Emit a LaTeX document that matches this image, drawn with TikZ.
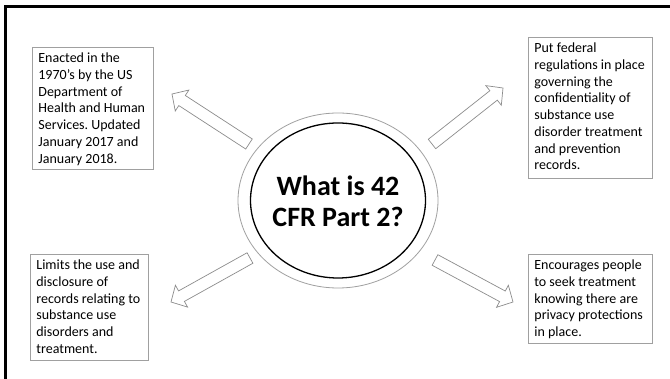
\documentclass[tikz,border=0pt]{standalone}
\usepackage{fontspec}
\setmainfont{Carlito}
\usetikzlibrary{calc,shapes.geometric}
\definecolor{boxgray}{HTML}{A0A0A0}
\definecolor{arrowgray}{HTML}{8C8C8C}
\tikzset{
  infobox/.style={draw=boxgray, line width=0.8pt, inner xsep=6pt, inner ysep=0pt,
    anchor=north west, font=\fontsize{14}{16.7}\selectfont},
  blk/.style={draw=arrowgray, line width=0.7pt, fill=white, line join=miter},
}
\frenchspacing
\newcommand\boxtext[3]{\parbox[c][#1][t]{#2}{\rule{0pt}{15.5pt}#3}}
\newcommand\blkarrow[2]{%
  \coordinate (hb) at ($(#2)!12pt!(#1)$);
  \draw[blk] ($(#1)!6pt!90:(#2)$) -- ($(hb)!6pt!90:(#2)$) -- ($(hb)!12.5pt!90:(#2)$)
    -- (#2) -- ($(hb)!12.5pt!-90:(#2)$) -- ($(hb)!6pt!-90:(#2)$)
    -- ($(#1)!6pt!-90:(#2)$) -- cycle;
}
\begin{document}
\begin{tikzpicture}[x=1pt,y=-1pt]
\useasboundingbox (0,0) rectangle (670,379);
\fill[white] (0,0) rectangle (670,379);
% frame
\draw[line width=2.6pt, line join=miter] (5.3,400) -- (5.3,6.5) -- (700,6.5);

% text boxes
\node[infobox] (tl) at (32,47) {\boxtext{122pt}{109pt}{Enacted in the\\1970’s by the US\\Department of\\Health and Human\\Services. Updated\\January 2017 and\\January 2018.}};
\node[infobox] (tr) at (528,37) {\boxtext{141pt}{112pt}{Put federal\\regulations in place\\governing the\\confidentiality of\\substance use\\disorder treatment\\and prevention\\records.}};
\node[infobox] (bl) at (30,254) {\boxtext{106pt}{106pt}{Limits the use and\\disclosure of\\records relating to\\substance use\\disorders and\\treatment.}};
\node[infobox] (br) at (528,254) {\boxtext{89pt}{112pt}{Encourages people\\to seek treatment\\knowing there are\\privacy protections\\in place.}};

% center
\node[ellipse, draw=boxgray, line width=0.8pt, minimum width=200pt, minimum height=175pt] (outer) at (338,200.5) {};
\node[ellipse, draw=black, line width=1.3pt, minimum width=175pt, minimum height=155pt] (inner) at (338,200.5) {};
\node[font=\bfseries\fontsize{28}{31}\selectfont, align=center, inner sep=0pt] (q) at (338,201) {What is 42\\CFR Part 2?};

% arrows
\coordinate (tlA) at (249,144); \coordinate (tlB) at (172,94);
\coordinate (trA) at (432,144); \coordinate (trB) at (503,88);
\coordinate (blA) at (250,258); \coordinate (blB) at (171,302);
\coordinate (brA) at (435,260); \coordinate (brB) at (513,302);
\blkarrow{tlA}{tlB}
\blkarrow{trA}{trB}
\blkarrow{blA}{blB}
\blkarrow{brA}{brB}
\end{tikzpicture}
\end{document}
